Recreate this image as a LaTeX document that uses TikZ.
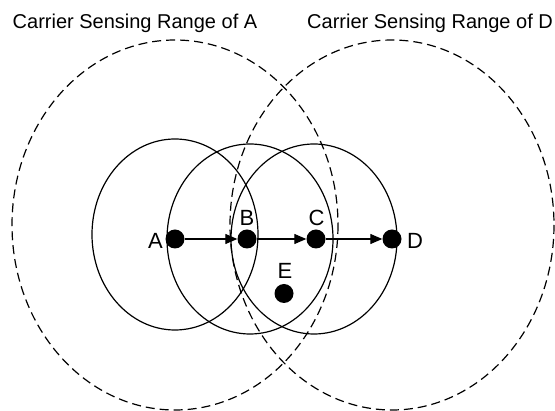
\documentclass[tikz,border=0pt]{standalone}
\usepackage{fontspec}
\setmainfont{Liberation Sans}
\usetikzlibrary{arrows.meta}
\begin{document}
\begin{tikzpicture}[x=1pt,y=-1pt,
  txrange/.style={line width=1.2pt},
  csrange/.style={line width=1.2pt,dash pattern=on 9pt off 5pt},
  dot/.style={circle,fill=black,inner sep=0pt,minimum size=19pt},
  lbl/.style={inner sep=0pt,font=\fontsize{22}{26}\selectfont},
  title/.style={inner sep=0pt,anchor=base west,font=\fontsize{20}{24}\selectfont},
  arr/.style={line width=1.2pt,-{Triangle[length=12pt,width=10pt]}}]
\useasboundingbox (0,0) rectangle (555,411);
% carrier sensing ranges
\draw[csrange] (175,225) ellipse [x radius=163, y radius=185];
\draw[csrange] (392,225) ellipse [x radius=162, y radius=185];
% transmission ranges
\draw[txrange] (175,234.5) ellipse [x radius=83, y radius=95.5];
\draw[txrange] (250,239) ellipse [x radius=83, y radius=95];
\draw[txrange] (314,239) ellipse [x radius=83, y radius=95];
% nodes
\node[dot] (A) at (175,239) {};
\node[dot] (B) at (247,239) {};
\node[dot] (C) at (316,239) {};
\node[dot] (D) at (392,239) {};
\node[dot] (E) at (284,293.5) {};
\node[lbl,anchor=base east] (la) at (163,249) {A};
\node[lbl,anchor=base] (lb) at (247,226) {B};
\node[lbl,anchor=base] (lc) at (316.5,226) {C};
\node[lbl,anchor=base west] (ld) at (407,248.5) {D};
\node[lbl,anchor=base] (le) at (285,279) {E};
\draw[arr] (A) -- (B);
\draw[arr] (B) -- (C);
\draw[arr] (C) -- (D);
% titles
\node[title] (ta) at (12.5,29) {Carrier Sensing Range of A};
\node[title] (td) at (307,29) {Carrier Sensing Range of D};
\end{tikzpicture}
\end{document}
